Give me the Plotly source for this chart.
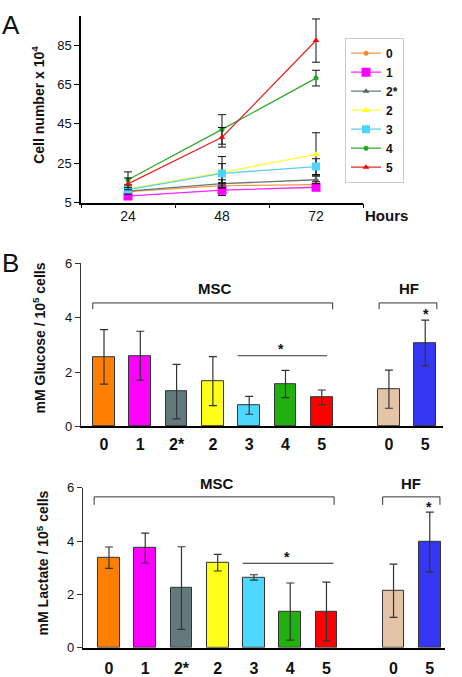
import plotly.graph_objects as go

W, H = 462, 677
FONT = "Liberation Sans, Arial, sans-serif"

# ---------------- data ----------------
hours = ["24", "48", "72"]
series_names = ["0", "1", "2*", "2", "3", "4", "5"]
cells_0 = [10.6, 13.6, 14.1]
cells_1 = [8.3, 11.3, 12.8]
cells_2s = [10.8, 14.6, 16.6]
cells_2 = [12.0, 20.4, 29.5]
cells_3 = [11.6, 19.8, 23.3]
cells_4 = [16.6, 42.2, 68.3]
cells_5 = [14.5, 38.2, 87.4]
err_0 = [1.5, 1.5, 1.5]
err_1 = [1.5, 2.7, 1.5]
err_2s = [1.5, 2.0, 2.0]
err_2 = [2.0, 8.0, 11.0]
err_3 = [2.0, 5.0, 4.0]
err_4 = [4.0, 7.5, 4.0]
err_5 = [3.0, 5.0, 11.0]
cell_ticks = [5, 25, 45, 65, 85]

msc_labels = ["0", "1", "2*", "2", "3", "4", "5"]
hf_labels = ["0", "5"]
glucose_msc = [2.56, 2.60, 1.28, 1.67, 0.78, 1.56, 1.07]
glucose_msc_err = [1.00, 0.90, 1.00, 0.90, 0.33, 0.50, 0.27]
glucose_hf = [1.37, 3.07]
glucose_hf_err = [0.70, 0.84]
lactate_msc = [3.38, 3.74, 2.24, 3.19, 2.64, 1.36, 1.36]
lactate_msc_err = [0.40, 0.56, 1.55, 0.31, 0.10, 1.07, 1.10]
lactate_hf = [2.14, 3.97]
lactate_hf_err = [1.00, 1.12]
bar_ticks = [0, 2, 4, 6]

# ---------------- styles ----------------
line_cols = ["#F29A48", "#FF22FF", "#667878", "#FFFF33", "#5CCDF0", "#33AA2A", "#E02828"]
mk_cols = ["#F28A30", "#FF00FF", "#556666", "#FFFF22", "#4DD5FF", "#22A822", "#FF0000"]
mk_sym = ["circle", "square", "triangle-up", "triangle-up", "square", "circle", "triangle-up"]
mk_size = [5, 9, 6, 7, 8, 5, 6]
bar_cols_msc = ["#FF7F00", "#FF00FF", "#627A7B", "#FFFF1A", "#4DD9FF", "#20B00F", "#FF0000"]
bar_cols_hf = ["#E3C4A6", "#3636F5"]

cells = [cells_0, cells_1, cells_2s, cells_2, cells_3, cells_4, cells_5]
errs = [err_0, err_1, err_2s, err_2, err_3, err_4, err_5]


def px_x(p):
    return p / W


def px_y(p):
    return (H - p) / H


fig = go.Figure()

for i, name in enumerate(series_names):
    fig.add_trace(go.Scatter(
        x=hours, y=cells[i], name="<b>%s</b>" % name, mode="lines+markers",
        line=dict(color=line_cols[i], width=1.3),
        marker=dict(color=mk_cols[i], symbol=mk_sym[i], size=mk_size[i]),
        error_y=dict(type="data", array=errs[i], color="#111111", thickness=1, width=4),
        xaxis="x", yaxis="y",
    ))

msc_pos = list(range(len(msc_labels)))
hf_pos = [len(msc_labels) + 0.85 + k for k in range(len(hf_labels))]
all_pos = msc_pos + hf_pos
all_labels = msc_labels + hf_labels

for ax, vals, evals in [("2", glucose_msc + glucose_hf, glucose_msc_err + glucose_hf_err),
                        ("3", lactate_msc + lactate_hf, lactate_msc_err + lactate_hf_err)]:
    fig.add_trace(go.Bar(
        x=all_pos, y=vals, width=0.6, showlegend=False,
        marker=dict(color=bar_cols_msc + bar_cols_hf, line=dict(color="#333333", width=1)),
        error_y=dict(type="data", array=evals, color="#333333", thickness=1.2, width=4),
        xaxis="x" + ax, yaxis="y" + ax,
    ))

tickfont = dict(family=FONT, size=13, color="#111111")
boldtick = dict(family=FONT, size=16, color="#111111")

layout = dict(
    width=W, height=H, margin=dict(l=0, r=0, t=0, b=0),
    paper_bgcolor="white", plot_bgcolor="white",
    font=dict(family=FONT, color="#111111"),
    xaxis=dict(domain=[px_x(81), px_x(363)], type="category", range=[-0.5, 2.5],
               tickson="boundaries", ticks="outside", ticklen=4, tickcolor="black",
               showline=True, linecolor="black", linewidth=1.5, showgrid=False,
               tickfont=dict(family=FONT, size=14, color="#111111"), anchor="y"),
    yaxis=dict(domain=[px_y(200), px_y(9)], range=[5, 100], tickvals=cell_ticks,
               ticks="outside", ticklen=5, tickcolor="black", showline=True,
               linecolor="black", linewidth=1.5, showgrid=False, zeroline=False,
               tickfont=tickfont, anchor="x"),
    xaxis2=dict(domain=[px_x(81), px_x(443)], range=[-0.634, 9.34], tickvals=all_pos,
                ticktext=["<b>%s</b>" % t for t in all_labels], ticks="",
                showline=True, linecolor="black", linewidth=1.5, showgrid=False,
                zeroline=False, tickfont=boldtick, anchor="y2", ticklabelstandoff=3),
    yaxis2=dict(domain=[px_y(429), px_y(262)], range=[0, 6], tickvals=bar_ticks,
                ticks="outside", ticklen=5, tickcolor="#333333", showline=True,
                linecolor="#333333", linewidth=1.2, showgrid=False, zeroline=False,
                tickfont=tickfont, anchor="x2"),
    xaxis3=dict(domain=[px_x(83), px_x(445)], range=[-0.717, 9.27], tickvals=all_pos,
                ticktext=["<b>%s</b>" % t for t in all_labels], ticks="",
                showline=True, linecolor="black", linewidth=1.5, showgrid=False,
                zeroline=False, tickfont=boldtick, anchor="y3", ticklabelstandoff=5),
    yaxis3=dict(domain=[px_y(655.3), px_y(491.7)], range=[0, 6], tickvals=bar_ticks,
                ticks="outside", ticklen=5, tickcolor="#333333", showline=True,
                linecolor="#333333", linewidth=1.2, showgrid=False, zeroline=False,
                tickfont=tickfont, anchor="x3"),
    legend=dict(x=px_x(345), xanchor="left", y=px_y(105.5), yanchor="middle",
                bgcolor="white", bordercolor="#CCCCCC", borderwidth=1,
                font=dict(family=FONT, size=12, color="#111111"), itemwidth=30,
                tracegroupgap=0),
    bargap=0,
)
fig.update_layout(**layout)

annotations = []
shapes = []


def ann(text, x, y, size, xref="paper", yref="paper", angle=0, bold=True):
    annotations.append(dict(text=("<b>%s</b>" % text) if bold else text, x=x, y=y,
                            xref=xref, yref=yref, showarrow=False, textangle=angle,
                            font=dict(family=FONT, size=size, color="#111111"),
                            xanchor="center", yanchor="middle"))


# panel letters and axis titles
ann("A", px_x(11), px_y(18), 26, bold=False)
ann("B", px_x(10), px_y(262), 26, bold=False)
ann("Hours", px_x(386), px_y(213.5), 15)
ann("Cell number x 10<sup>4</sup>", px_x(38), px_y(100), 14, angle=-90)
ann("mM Glucose / 10<sup>5</sup> cells", px_x(40), px_y(339), 14, angle=-90)
ann("mM Lactate / 10<sup>5</sup> cells", px_x(43), px_y(569), 14, angle=-90)


def bracket(xr, yr, x0, x1, y, drop):
    shapes.append(dict(type="path", xref=xr, yref=yr,
                       path="M %f %f L %f %f L %f %f L %f %f" % (x0, y - drop, x0, y, x1, y, x1, y - drop),
                       line=dict(color="#333333", width=1)))


# glucose panel annotations
bracket("x2", "y2", -0.31, 6.3, 4.54, 0.23)
bracket("x2", "y2", 7.58, 9.17, 4.54, 0.23)
shapes.append(dict(type="line", xref="x2", yref="y2", x0=3.68, x1=6.15, y0=2.6, y1=2.6,
                   line=dict(color="#333333", width=1)))
ann("MSC", px_x(215), px_y(288), 15)
ann("HF", px_x(409), px_y(288), 15)
ann("*", 4.87, 2.83, 14, xref="x2", yref="y2")
ann("*", 8.86, 4.12, 14, xref="x2", yref="y2")

# lactate panel annotations
bracket("x3", "y3", -0.41, 6.21, 5.66, 0.3)
bracket("x3", "y3", 7.55, 9.13, 5.66, 0.3)
shapes.append(dict(type="line", xref="x3", yref="y3", x0=3.69, x1=6.19, y0=3.17, y1=3.17,
                   line=dict(color="#222222", width=1)))
ann("MSC", px_x(217), px_y(487), 15)
ann("HF", px_x(411), px_y(487), 15)
ann("*", 4.9, 3.4, 14, xref="x3", yref="y3")
ann("*", 8.84, 5.27, 14, xref="x3", yref="y3")

fig.update_layout(annotations=annotations, shapes=shapes)
fig.write_html("out.html", config={"displayModeBar": False},
               post_script="document.body.style.margin='0';")
